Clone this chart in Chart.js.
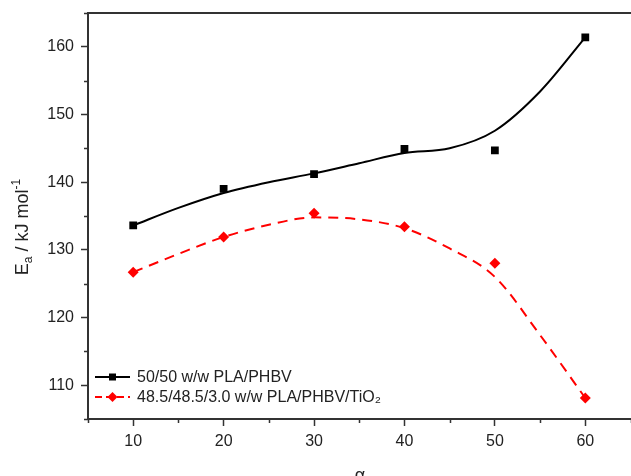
<!DOCTYPE html>
<html>
<head>
<meta charset="utf-8">
<script src="https://cdn.jsdelivr.net/npm/chart.js@4/dist/chart.umd.min.js"></script>
<style>
  html, body { margin: 0; padding: 0; background: #fff; overflow: hidden; }
  #wrap { width: 636px; height: 476px; }
</style>
</head>
<body>
<div id="wrap"><canvas id="chart" width="636" height="476"></canvas></div>
<script>
// measured points
const alphaPts = [10, 20, 30, 40, 50, 60];
const blendEa = [133.6, 139.0, 141.2, 144.9, 144.7, 161.4];
const tio2Ea = [126.7, 131.9, 135.4, 133.4, 128.0, 108.1];

// fitted curves
const fitAlpha = [10, 15, 20, 25, 30, 35, 40, 45, 50, 55, 60];
const blendFit = [133.6, 136.2, 138.4, 140.0, 141.3, 142.8, 144.3, 145.0, 147.6, 153.4, 161.4];
const tio2Fit = [126.7, 129.4, 131.9, 133.7, 134.8, 134.5, 133.2, 130.2, 126.0, 117.4, 108.1];

const xTicks = [10, 20, 30, 40, 50, 60];
const yTicks = [110, 120, 130, 140, 150, 160];
const xMinor = [5, 15, 25, 35, 45, 55, 65];
const yMinor = [105, 115, 125, 135, 145, 155, 165];

const legendLabels = ['50/50 w/w PLA/PHBV', '48.5/48.5/3.0 w/w PLA/PHBV/TiO\u2082'];

const FONT = '"Liberation Sans", Arial, sans-serif';
const AXIS = '#333';

function pts(xs, ys) {
    return xs.map((x, i) => ({x: x, y: ys[i]}));
}

const decor = {
    id: 'decor',
    afterDraw(chart) {
        const ctx = chart.ctx;
        const a = chart.chartArea;
        const xs = chart.scales.x, ys = chart.scales.y;
        ctx.save();
        // top frame
        ctx.strokeStyle = AXIS;
        ctx.lineWidth = 2;
        ctx.beginPath();
        ctx.moveTo(a.left - 1, a.top);
        ctx.lineTo(a.right + 2, a.top);
        ctx.stroke();
        // minor ticks
        ctx.lineWidth = 1.5;
        ctx.beginPath();
        xMinor.forEach(v => {
            const px = Math.round(xs.getPixelForValue(v)) + 0.5;
            ctx.moveTo(px, a.bottom);
            ctx.lineTo(px, a.bottom + 4);
        });
        yMinor.forEach(v => {
            const py = Math.round(ys.getPixelForValue(v)) + 0.5;
            ctx.moveTo(a.left, py);
            ctx.lineTo(a.left - 4, py);
        });
        ctx.stroke();

        // legend
        ctx.font = '16px ' + FONT;
        ctx.textBaseline = 'middle';
        ctx.fillStyle = '#222';
        const rows = [
            {y: 377, color: '#000', dash: [], marker: 'rect'},
            {y: 397, color: '#f00', dash: [7, 4], marker: 'diamond'}
        ];
        rows.forEach((r, i) => {
            ctx.strokeStyle = r.color;
            ctx.lineWidth = 2;
            ctx.setLineDash(r.dash);
            ctx.beginPath();
            ctx.moveTo(95, r.y);
            ctx.lineTo(130, r.y);
            ctx.stroke();
            ctx.setLineDash([]);
            ctx.fillStyle = r.color;
            ctx.beginPath();
            if (r.marker === 'rect') {
                ctx.rect(109, r.y - 3.5, 7, 7);
            } else {
                ctx.moveTo(112.5, r.y - 5);
                ctx.lineTo(117.5, r.y);
                ctx.lineTo(112.5, r.y + 5);
                ctx.lineTo(107.5, r.y);
                ctx.closePath();
            }
            ctx.fill();
            ctx.fillStyle = '#222';
            ctx.fillText(legendLabels[i], 137, r.y + 1);
        });

        // y title: E_a / kJ mol^-1
        ctx.save();
        ctx.translate(28, 227);
        ctx.rotate(-Math.PI / 2);
        ctx.textBaseline = 'alphabetic';
        ctx.fillStyle = '#222';
        const big = '18px ' + FONT, small = '12px ' + FONT;
        const parts = [
            {t: 'E', f: big, dy: 0},
            {t: 'a', f: small, dy: 4},
            {t: ' / kJ mol', f: big, dy: 0},
            {t: '-1', f: small, dy: -8}
        ];
        let w = 0;
        parts.forEach(p => { ctx.font = p.f; w += ctx.measureText(p.t).width; });
        let cx = -w / 2;
        parts.forEach(p => {
            ctx.font = p.f;
            ctx.fillText(p.t, cx, p.dy);
            cx += ctx.measureText(p.t).width;
        });
        ctx.restore();

        // x title
        ctx.font = '18px ' + FONT;
        ctx.textAlign = 'center';
        ctx.textBaseline = 'alphabetic';
        ctx.fillStyle = '#222';
        ctx.fillText('\u03b1', 360, 481);
        ctx.restore();
    }
};

const config = {
    type: 'scatter',
    data: {
        datasets: [
            {
                label: 'blend fit',
                data: pts(fitAlpha, blendFit),
                showLine: true,
                borderColor: '#000',
                borderWidth: 2,
                pointRadius: 0,
                cubicInterpolationMode: 'monotone',
            },
            {
                label: 'tio2 fit',
                data: pts(fitAlpha, tio2Fit),
                showLine: true,
                borderColor: '#f00',
                borderWidth: 2,
                borderDash: [10, 7],
                pointRadius: 0,
                cubicInterpolationMode: 'monotone',
            },
            {
                label: legendLabels[0],
                data: pts(alphaPts, blendEa),
                pointStyle: 'rect',
                pointRadius: 5.5,
                backgroundColor: '#000',
                borderColor: '#000',
                borderWidth: 0,
            },
            {
                label: legendLabels[1],
                data: pts(alphaPts, tio2Ea),
                pointStyle: 'rectRot',
                pointRadius: 5.5,
                backgroundColor: '#f00',
                borderColor: '#f00',
                borderWidth: 0,
            },
        ],
    },
    options: {
        responsive: false,
        animation: false,
        layout: {padding: {top: 13, right: 2, left: 0, bottom: 0}},
        plugins: {
            legend: {display: false},
            tooltip: {enabled: false},
        },
        scales: {
            x: {
                type: 'linear',
                min: 5,
                max: 65,
                afterBuildTicks: s => { s.ticks = xTicks.map(v => ({value: v})); },
                afterFit: s => { s.height = 57; s.paddingLeft = 0; s.paddingRight = 0; },
                grid: {drawOnChartArea: false, tickLength: 7, tickColor: AXIS, tickWidth: 1.5},
                border: {color: AXIS, width: 2},
                ticks: {
                    font: {family: FONT, size: 16},
                    color: '#222',
                    padding: 6,
                    maxRotation: 0,
                    autoSkip: false,
                },
            },
            y: {
                min: 105,
                max: 165,
                afterBuildTicks: s => { s.ticks = yTicks.map(v => ({value: v})); },
                afterFit: s => { s.width = 88; s.paddingTop = 0; s.paddingBottom = 0; },
                grid: {drawOnChartArea: false, tickLength: 7, tickColor: AXIS, tickWidth: 1.5},
                border: {color: AXIS, width: 2},
                ticks: {
                    font: {family: FONT, size: 16},
                    color: '#222',
                    padding: 7,
                    autoSkip: false,
                },
            },
        },
    },
    plugins: [decor],
};

new Chart(document.getElementById('chart'), config);
</script>
</body>
</html>
